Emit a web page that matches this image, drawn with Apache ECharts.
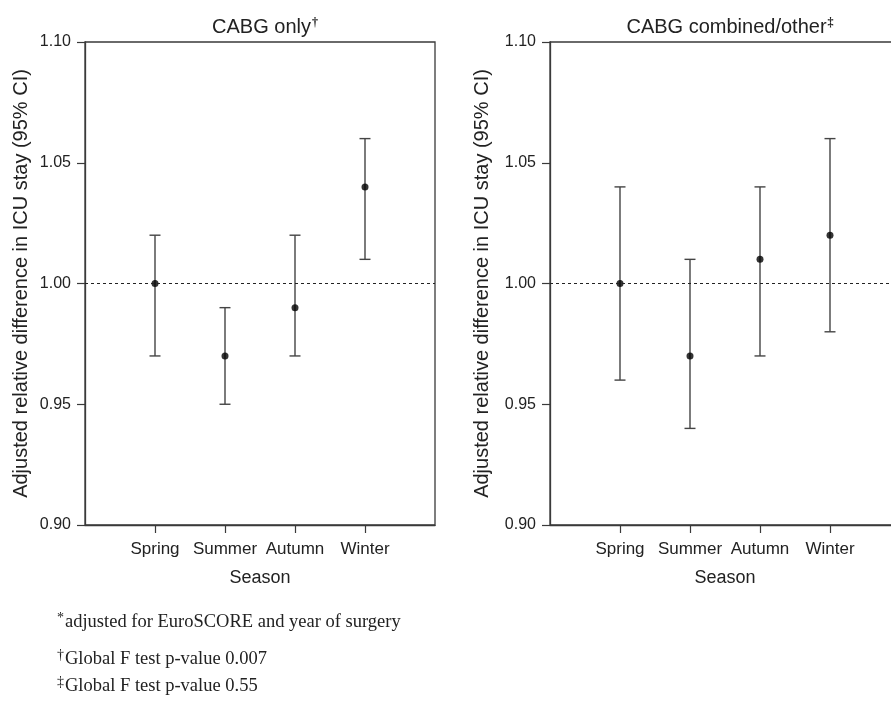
<!DOCTYPE html>
<html>
<head>
<meta charset="utf-8">
<script src="https://cdn.jsdelivr.net/npm/echarts@6/dist/echarts.min.js"></script>
<style>
html,body{margin:0;padding:0;background:#fff;}
#chart{width:891px;height:701px;}
</style>
</head>
<body>
<div id="chart"></div>
<script>
// ---- data ----
const seasons = ['Spring', 'Summer', 'Autumn', 'Winter'];
const yTicks = [0.90, 0.95, 1.00, 1.05, 1.10];
// CABG only
const onlyEst   = [1.00, 0.97, 0.99, 1.04];
const onlyLower = [0.97, 0.95, 0.97, 1.01];
const onlyUpper = [1.02, 0.99, 1.02, 1.06];
// CABG combined/other
const combEst   = [1.00, 0.97, 1.01, 1.02];
const combLower = [0.96, 0.94, 0.97, 0.98];
const combUpper = [1.04, 1.01, 1.04, 1.06];
const refValue = 1.00;

const titles = ['CABG only', 'CABG combined/other'];
const titleMarks = ['†', '‡'];
const yName = 'Adjusted relative difference in ICU stay (95% CI)';
const xName = 'Season';
const footnotes = [
  ['*', 'adjusted for EuroSCORE and year of surgery'],
  ['†', 'Global F test p-value 0.007'],
  ['‡', 'Global F test p-value 0.55']
];

const chart = echarts.init(document.getElementById('chart'), null, {renderer: 'canvas'});
const axisColor = '#3a3a3a';
const textColor = '#222';
const sans = 'Arial, "Liberation Sans", Helvetica, sans-serif';
const serif = '"Times New Roman", "Liberation Serif", serif';

const gridLefts = [85, 550];
const grids = gridLefts.map(l => ({
  left: l, top: 42, width: 350, height: 483, show: true,
  outerBoundsMode: 'none', containLabel: false,
  borderColor: axisColor, borderWidth: 1.3, backgroundColor: 'transparent'
}));

const catPos = seasons.map((s, i) => i + 1);

const xAxes = grids.map((g, gi) => ({
  type: 'value', gridIndex: gi, min: 0, max: 5,
  name: xName, nameLocation: 'middle', nameGap: 44,
  nameTextStyle: {fontSize: 18, color: textColor, fontFamily: sans},
  axisLine: {show: true, lineStyle: {color: axisColor, width: 1.3}},
  axisTick: {show: true, length: 8, inside: false, customValues: catPos, lineStyle: {color: axisColor, width: 1.2}},
  axisLabel: {show: true, customValues: catPos, margin: 16, fontSize: 17, color: textColor, fontFamily: sans,
    formatter: v => seasons[Math.round(v) - 1] || ''},
  splitLine: {show: false}
}));

const yAxes = grids.map((g, gi) => ({
  type: 'value', gridIndex: gi, min: 0.90, max: 1.10,
  name: yName, nameLocation: 'middle', nameGap: gi === 0 ? 54 : 58,
  nameTextStyle: {fontSize: 20, color: textColor, fontFamily: sans},
  axisLine: {show: true, lineStyle: {color: axisColor, width: 1.3}},
  axisTick: {show: true, length: 8, customValues: yTicks, lineStyle: {color: axisColor, width: 1.2}},
  axisLabel: {show: true, customValues: yTicks, margin: 14, fontSize: 16, color: textColor, fontFamily: sans,
    formatter: v => v.toFixed(2)},
  splitLine: {show: false}
}));

function errSeries(gi, lower, upper) {
  return {
    type: 'custom', xAxisIndex: gi, yAxisIndex: gi,
    data: seasons.map((s, i) => [i + 1, lower[i], upper[i]]),
    renderItem: function (params, api) {
      const x = api.value(0);
      const lo = api.coord([x, api.value(1)]);
      const hi = api.coord([x, api.value(2)]);
      const cw = 5.5;
      const st = {stroke: '#444', lineWidth: 1.4};
      return {type: 'group', children: [
        {type: 'line', shape: {x1: lo[0], y1: lo[1], x2: hi[0], y2: hi[1]}, style: st},
        {type: 'line', shape: {x1: lo[0] - cw, y1: lo[1], x2: lo[0] + cw, y2: lo[1]}, style: st},
        {type: 'line', shape: {x1: hi[0] - cw, y1: hi[1], x2: hi[0] + cw, y2: hi[1]}, style: st}
      ]};
    },
    silent: true, z: 2
  };
}
function pointSeries(gi, est) {
  return {
    type: 'scatter', xAxisIndex: gi, yAxisIndex: gi,
    data: seasons.map((s, i) => [i + 1, est[i]]),
    symbol: 'circle', symbolSize: 7,
    itemStyle: {color: '#000'}, z: 3, silent: true,
    markLine: {
      silent: true, symbol: ['none', 'none'], label: {show: false},
      lineStyle: {type: [3, 3], color: '#222', width: 1},
      data: [{yAxis: refValue}]
    }
  };
}

const titleComps = titles.map((t, i) => ({
  text: '{m|' + t + '}{s|' + titleMarks[i] + '}',
  left: gridLefts[i] + 175, top: 12, textAlign: 'center',
  textStyle: {fontWeight: 'normal', rich: {
    m: {fontSize: 20, fontWeight: 'normal', color: textColor, fontFamily: sans, verticalAlign: 'bottom'},
    s: {fontSize: 12, color: textColor, fontFamily: serif, fontWeight: 'bold', verticalAlign: 'top', padding: [0, 0, 8, 1]}
  }}
}));

const footY = [625, 662, 689];
const footGraphics = footnotes.map((f, i) => ({
  type: 'text', left: 57, top: footY[i] - 14,
  style: {
    text: '{s|' + f[0] + '}{m|' + f[1] + '}',
    rich: {
      m: {fontSize: 18.5, fill: textColor, fontFamily: serif},
      s: {fontSize: 14, fill: textColor, fontFamily: serif, padding: [0, 1, 8, 0]}
    }
  }
}));

chart.setOption({
  animation: false,
  backgroundColor: '#fff',
  title: titleComps,
  grid: grids,
  xAxis: xAxes,
  yAxis: yAxes,
  series: [
    errSeries(0, onlyLower, onlyUpper), pointSeries(0, onlyEst),
    errSeries(1, combLower, combUpper), pointSeries(1, combEst)
  ],
  graphic: footGraphics
});
</script>
</body>
</html>
